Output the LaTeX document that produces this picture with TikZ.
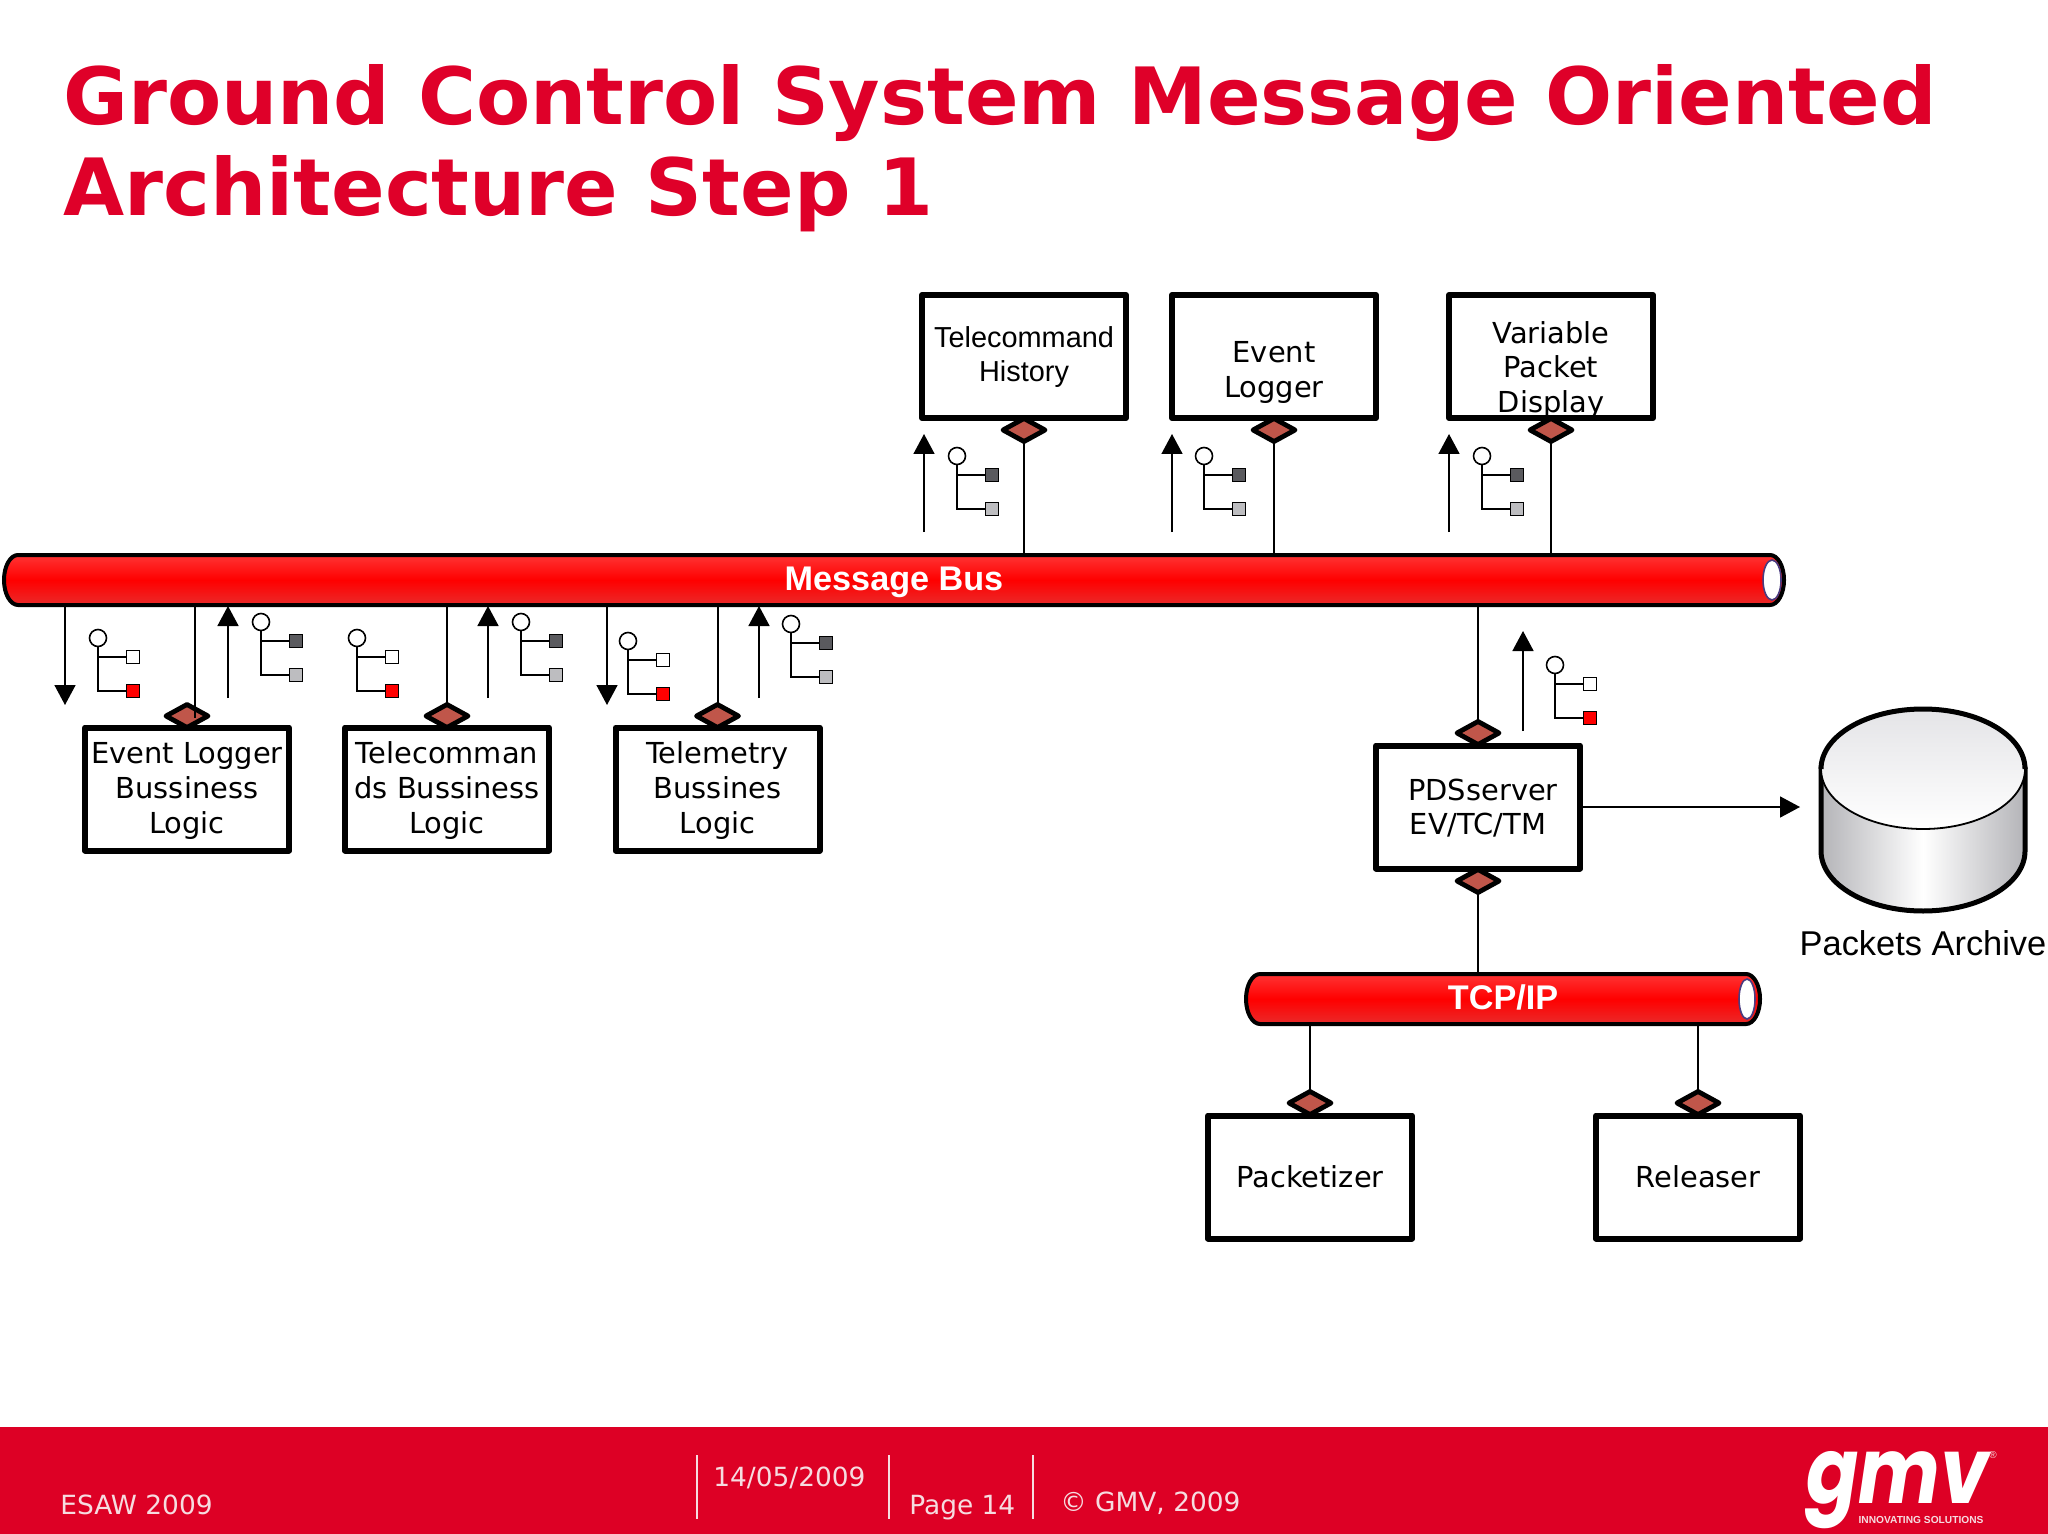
\documentclass[tikz,border=0pt]{standalone}
\usepackage{fontspec}
\usetikzlibrary{arrows.meta,shapes.geometric,positioning,backgrounds}
\newfontfamily\verdanafont{DejaVu Sans}
\newfontfamily\arialfont{Liberation Sans}
\newfontfamily\logofont{Poppins}
\definecolor{gmvred}{HTML}{DF0029}
\definecolor{footred}{HTML}{DD0025}
\definecolor{portred}{HTML}{C0564A}
\definecolor{pipetop}{HTML}{FF3434}
\definecolor{pipebot}{HTML}{EA2A2A}
\definecolor{capblue}{HTML}{4A3C80}
\definecolor{sidegray}{HTML}{B4B4B8}
\definecolor{topgray}{HTML}{E4E4E7}
\definecolor{darksq}{HTML}{5A5A5E}
\definecolor{lightsq}{HTML}{BDBDC0}
\definecolor{foottext}{HTML}{F6DCE0}
\tikzset{
  boxnode/.style={draw, fill=white, line width=3pt, line join=round, inner sep=0pt, outer sep=0pt,
    minimum width=102pt, minimum height=61.5pt, align=center,
    font=\verdanafont\fontsize{14.45}{17.3}\selectfont},
  portnode/.style={diamond, draw, fill=portred, line width=2.4pt, line join=round, inner sep=0pt, outer sep=0pt,
    minimum width=21pt, minimum height=11.5pt},
  link/.style={line width=1pt},
  flow/.style={line width=0.8pt, -{Triangle[length=10pt,width=10.5pt]}},
  pipeline/.style={draw, line width=2pt, top color=pipetop, bottom color=pipebot, middle color=red},
  pipetext/.style={text=white, inner sep=0pt, outer sep=0pt, text height=10pt, text depth=0pt,
    minimum height=25pt, font=\arialfont\bfseries\fontsize{17.1}{20}\selectfont},
  circnode/.style={circle, draw, fill=white, line width=0.8pt, inner sep=0pt, outer sep=0pt, minimum size=8.5pt},
  sqnode/.style={rectangle, draw, fill=#1, line width=0.8pt, inner sep=0pt, outer sep=0pt, minimum size=6.5pt},
  foottxt/.style={text=foottext, inner sep=0pt, anchor=base west, font=\verdanafont\fontsize{13.2}{16}\selectfont},
}
% small tree icon: circle with two squares
\newcommand{\treeicon}[5]{
  \node[circnode] (#1c) at (#2,#3) {};
  \node[sqnode=#4] (#1a) at (#2+35,#3+19) {};
  \node[sqnode=#5] (#1b) at (#2+35,#3+53) {};
  \draw[link] (#1c.south) |- (#1a.west);
  \draw[link] (#1c.south) |- (#1b.west);
}
% pipe body round a node
\newcommand{\pipebody}[1]{
  \begin{pgfonlayer}{background}
  \draw[pipeline] ([xshift=7pt]#1.north west) -- ([xshift=-7pt]#1.north east)
    arc[start angle=90,end angle=-90,x radius=7pt,y radius=12.5pt]
    -- ([xshift=7pt]#1.south west)
    arc[start angle=270,end angle=90,x radius=7pt,y radius=12.5pt] -- cycle;
  \end{pgfonlayer}
}
% lines of a box, moved down by #1
\newcommand{\lowered}[2]{\raisebox{\dimexpr-#1-3.6pt}[0pt][0pt]{\begin{tabular}{@{}c@{}}#2\end{tabular}}}
\begin{document}
\begin{tikzpicture}[x=0.5pt,y=-0.5pt]
  \useasboundingbox (0,0) rectangle (2048,1534);

  % title
  \node[text=gmvred, align=left, anchor=north west, inner sep=0pt,
    font=\verdanafont\bfseries\fontsize{39.5}{45.5}\selectfont] (title) at (63,64.5)
    {Ground Control System Message Oriented\\Architecture Step 1};

  % pipes
  \node[pipetext, minimum width=890pt] (bus) at (894,580) {Message Bus};
  \pipebody{bus}
  \draw[line width=0.8pt, draw=capblue, fill=white] (1772,580) ellipse [x radius=4.5pt, y radius=10pt];
  \node[pipetext, minimum width=257pt] (tcp) at (1503,999) {TCP/IP};
  \pipebody{tcp}
  \draw[line width=0.8pt, draw=capblue, fill=white] (1747,999) ellipse [x radius=4pt, y radius=10pt];

  % upper boxes
  \node[boxnode] (tchist) at (1024,356.5) {\lowered{0.5pt}{\arialfont Telecommand\\\arialfont History}};
  \node[boxnode] (evlog) at (1274,356.5) {\lowered{8.2pt}{Event\\Logger}};
  \node[boxnode] (vpd) at (1551,356.5) {\lowered{7.2pt}{Variable\\Packet\\Display}};
  \node[portnode] (tchistp) at (1024,430) {};
  \node[portnode] (evlogp) at (1274,430) {};
  \node[portnode] (vpdp) at (1551,430) {};

  % lower boxes
  \node[boxnode] (elbl) at (187,789) {\lowered{1.3pt}{Event Logger\\Bussiness\\Logic}};
  \node[boxnode] (tcbl) at (447,789) {\lowered{1.3pt}{Telecomman\\ds Bussiness\\Logic}};
  \node[boxnode] (tmbl) at (717.5,789) {\lowered{1.3pt}{Telemetry\\Bussines\\Logic}};
  \node[portnode] (elblp) at (187,716) {};
  \node[portnode] (tcblp) at (447,716) {};
  \node[portnode] (tmblp) at (717.5,716) {};

  % pds and its children
  \node[boxnode] (pds) at (1478,807) {\lowered{1.8pt}{\hspace{5pt}PDSserver\\EV/TC/TM}};
  \node[boxnode] (pack) at (1310,1177) {Packetizer};
  \node[boxnode] (rel) at (1698,1177) {Releaser};
  \node[portnode] (pdsp) at (1478,733) {};
  \node[portnode] (pdsq) at (1478,881) {};
  \node[portnode] (packp) at (1310,1103) {};
  \node[portnode] (relp) at (1698,1103) {};

  % links to the pipes
  \draw[link] (tchistp.south) -- (tchistp.south |- bus.north);
  \draw[link] (evlogp.south) -- (evlogp.south |- bus.north);
  \draw[link] (vpdp.south) -- (vpdp.south |- bus.north);
  \coordinate (elend) at (195,718);
  \draw[link] (elend |- bus.south) -- (elend);
  \draw[link] (tcblp.north) -- (tcblp.north |- bus.south);
  \draw[link] (tmblp.north) -- (tmblp.north |- bus.south);
  \draw[link] (pdsp.north) -- (pdsp.north |- bus.south);
  \draw[link] (pdsq.south) -- (pdsq.south |- tcp.north);
  \draw[link] (packp.north) -- (packp.north |- tcp.south);
  \draw[link] (relp.north) -- (relp.north |- tcp.south);

  % flow arrows
  \foreach \name/\x/\ya/\yb in {fa/924/532/434, fb/1172/532/434, fc/1449/532/434,
      fd/65/607/705, fe/228/698/606, ff/488/698/606, fg/607/607/705, fh/759/698/606, fi/1523/731/631} {
    \coordinate (\name a) at (\x,\ya);
    \coordinate (\name b) at (\x,\yb);
    \draw[flow] (\name a) -- (\name b);
  }

  % tree icons
  \treeicon{ia}{957}{456}{darksq}{lightsq}
  \treeicon{ib}{1204}{456}{darksq}{lightsq}
  \treeicon{ic}{1482}{456}{darksq}{lightsq}
  \treeicon{id}{98}{638}{white}{red}
  \treeicon{ie}{261}{622}{darksq}{lightsq}
  \treeicon{if}{357}{638}{white}{red}
  \treeicon{ig}{521}{622}{darksq}{lightsq}
  \treeicon{ih}{628}{641}{white}{red}
  \treeicon{ii}{791}{624}{darksq}{lightsq}
  \treeicon{ij}{1555}{665}{white}{red}

  % packets archive
  \coordinate (dbin) at (1800,807);
  \draw[flow] (pds.east) -- (dbin);
  \draw[line width=2.5pt, left color=sidegray, right color=sidegray, middle color=white]
    (1821,769) -- (1821,851) arc[start angle=180,end angle=360,x radius=51pt,y radius=30pt]
    -- (2025,769) -- cycle;
  \draw[line width=0.9pt, top color=topgray, bottom color=white] (1923,769) ellipse [x radius=51pt, y radius=30pt];
  \draw[line width=2.5pt] (1821,769) arc[start angle=180,end angle=0,x radius=51pt,y radius=30pt];
  \node[inner sep=0pt, font=\arialfont\fontsize{17.2}{20}\selectfont] (archive) at (1923,943) {Packets Archive};

  % footer
  \fill[footred] (0,1427) rectangle (2048,1534);
  \foreach \x in {697,889,1033} \draw[foottext, line width=0.6pt] (\x,1455) -- (\x,1519);
  \node[foottxt] (esaw) at (60,1514) {ESAW 2009};
  \node[foottxt] (fdate) at (713,1486) {14/05/2009};
  \node[foottxt] (fpage) at (909,1514) {Page 14};
  \node[foottxt] (fcopy) at (1060,1511) {© GMV, 2009};
  \node[text=white, inner sep=0pt, anchor=base west, xscale=0.84,
    font=\logofont\bfseries\itshape\fontsize{46}{46}\selectfont] (logo) at (1806,1503) {gmv};
  \node[text=foottext, inner sep=0pt, anchor=base, font=\arialfont\bfseries\fontsize{5.1}{6}\selectfont] (slogan) at (1921,1523) {INNOVATING SOLUTIONS};
  \node[text=foottext, inner sep=0pt, font=\arialfont\fontsize{5}{6}\selectfont] (regmark) at (1993,1455) {®};
\end{tikzpicture}
\end{document}
